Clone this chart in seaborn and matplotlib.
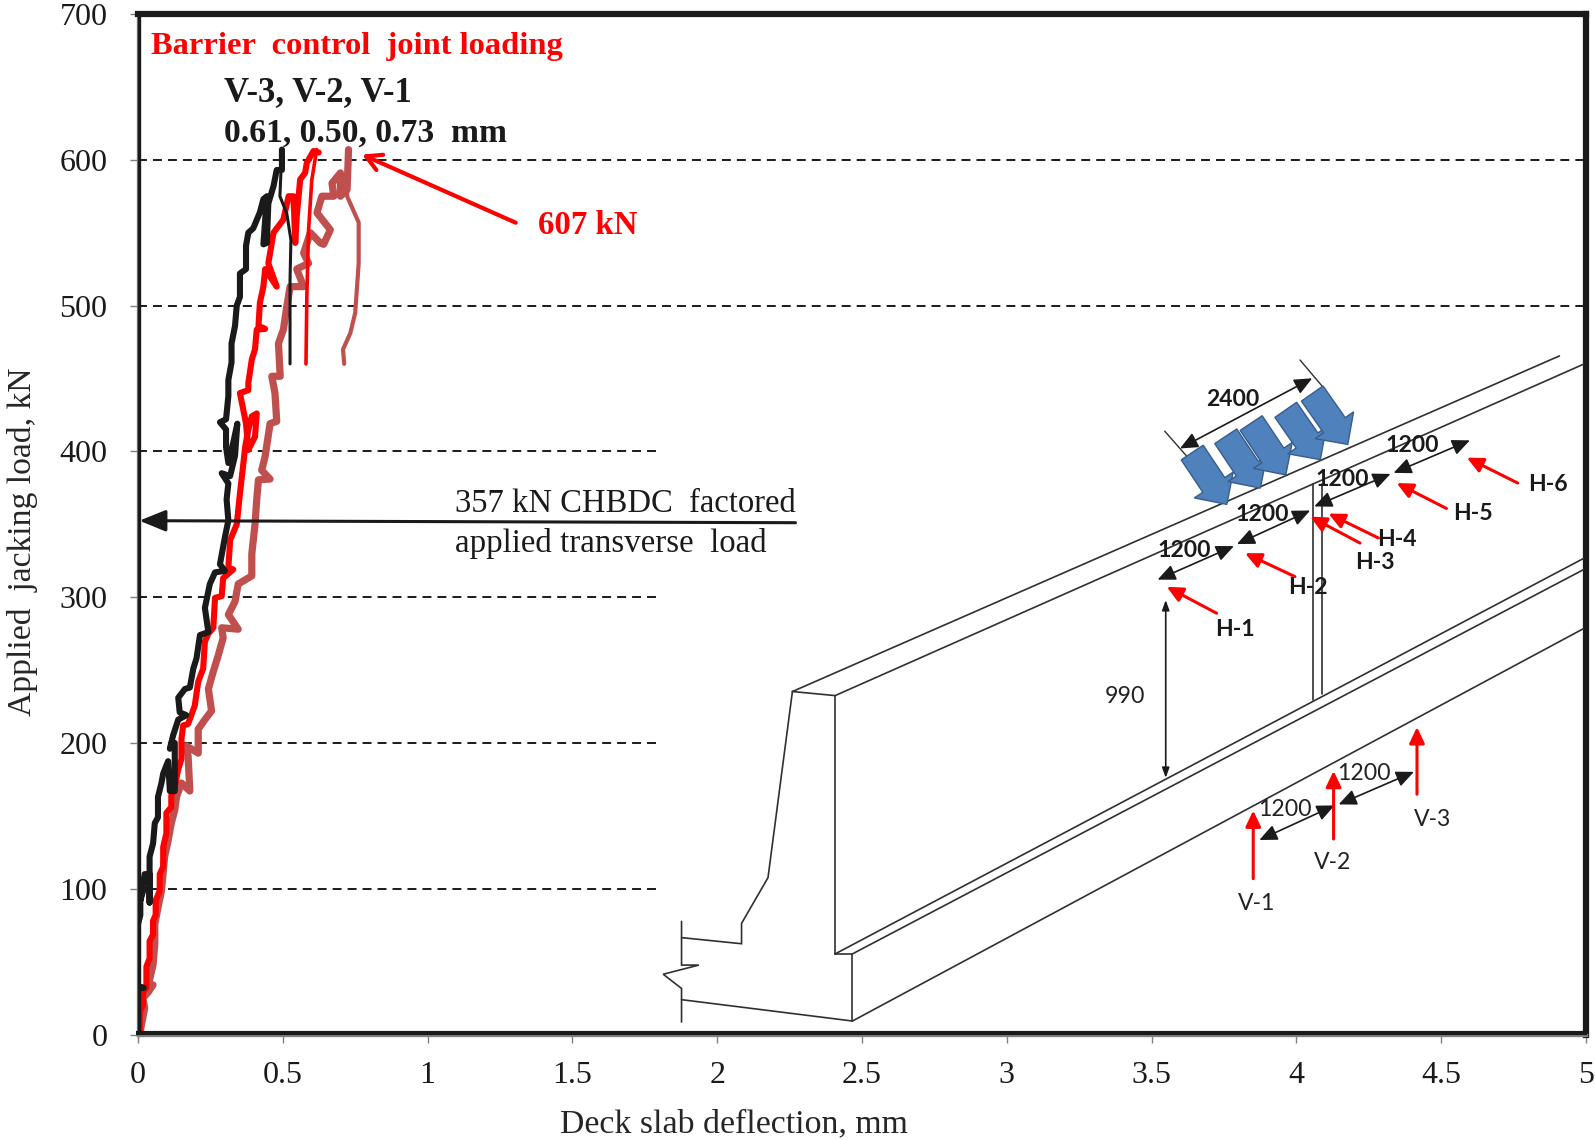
import matplotlib
matplotlib.use("Agg")
import matplotlib.pyplot as plt
import matplotlib.patches as mp
import pandas as pd
import seaborn as sns

# ---- chart data (deflection mm, load kN) ----
v3_x = [0,0,0.02,0,0,0.008,0.008,0.02,0.008,0.023,0.04,0.04,0.04,0.052,0.058,0.069,0.069,0.081,0.087,0.104,0.11,0.127,0.127,0.11,0.121,0.139,0.167,0.144,0.139,0.162,0.179,0.191,0.202,0.214,0.243,0.231,0.248,0.266,0.3,0.283,0.3,0.312,
        0.306,0.306,0.312,0.289,0.318,0.335,0.343,0.329,0.312,0.304,0.304,0.283,0.304,0.312,0.312,0.323,0.323,0.335,0.341,0.352,0.352,0.373,0.373,0.381,0.398,0.421,0.433,0.445,0.433,0.445,0.45,0.468,0.479,0.497,0.497]
v3_y = [0,32,32,33,75.5,82,100,100,92,110,110,90.5,122,131,145,149,163,172.5,179,187.5,167,167,200,196,205,216,219,221,231,237,238,251,258,274,276,292.6,309,317,318,322.6,341,352.6,
        367,367,378,385,383,397,419,406,392,403,415,420,422,438,449,461,474,486,500,506,522,525,541,550,553,564,573,575,542,543,570,582,593,593,607]
v3_un_x = [0.497,0.49,0.514,0.528,0.525,0.525]
v3_un_y = [607,575,563,545,518,460]

v2_x = [0.006,0.006,0.017,0.017,0.029,0.029,0.04,0.04,0.052,0.052,0.061,0.061,0.075,0.075,0.087,0.087,0.098,0.098,0.115,0.115,0.127,0.139,0.15,0.15,0.156,0.173,0.196,0.208,0.225,0.231,0.243,0.26,0.266,0.289,0.294,0.329,0.312,0.318,0.341,
        0.352,0.364,0.37,0.381,0.393,0.41,0.404,0.381,0.373,0.352,0.381,0.381,0.393,0.404,0.41,0.439,0.416,0.421,0.433,0.439,0.479,0.45,0.468,0.485,0.502,0.52,0.537,0.543,0.548,0.56,0.577,0.583,0.606,0.624]
v2_y = [1.6,15.5,20,29,32,46.6,52,64,68.6,78,82,92,98.6,110,115,128.6,138,152,156,164,170,182,189,202.5,212,213,225.6,242,251,269.5,275,279,299.5,300.7,313,319,320,339,350,
        371,392,403,415,424,426,410,401,419,440,442,447,463,470,483.5,484,486,502,513,525,513,529,550,554.5,559,575,575,543,561,586.5,591,598,606,605]
v2_un_x = [0.617,0.60,0.589,0.583,0.58]
v2_un_y = [607,586,552,506,460]

v1_x = [0.006,0.023,0.017,0.035,0.052,0.035,0.052,0.058,0.058,0.069,0.081,0.092,0.104,0.115,0.127,0.133,0.15,0.179,0.173,0.167,0.208,0.208,0.231,0.254,0.243,0.26,0.277,0.294,0.289,0.346,0.312,0.335,0.346,0.393,0.393,0.404,
        0.41,0.416,0.456,0.427,0.439,0.456,0.479,0.473,0.462,0.491,0.485,0.502,0.514,0.525,0.572,0.548,0.589,0.572,0.595,0.629,0.641,0.664,0.618,0.635,0.676,0.67,0.699,0.699,0.722,0.727]
v1_y = [0.5,18,25,29,34,33,48,62,75.5,87,98.6,122,133,145,154,163,172.5,167,191,198,193,209.5,216,222,237,249,260,272,279,278,288,297,309,314.6,329.6,350,
        367,380.5,381,387,396.6,419,420.6,440,451.5,451.5,474,483.5,499.5,513,513,525,529,536,550,543,542,552,563.6,575,575,584,591,575,579.6,607]
v1_un_x = [0.727,0.722,0.762,0.762,0.75,0.733,0.708,0.712]
v1_un_y = [607,575,557,529,495,481,470,460]

x_ticks = [0,0.5,1,1.5,2,2.5,3,3.5,4,4.5,5]
x_tick_labels = ["0","0.5","1","1.5","2","2.5","3","3.5","4","4.5","5"]
y_ticks = [0,100,200,300,400,500,600,700]
short_grid = [100,200,300,400]
long_grid = [500,600]
short_grid_end = 1.8
x_label = "Deck slab deflection, mm"
y_label = "Applied  jacking load, kN"

BROWN = "#c0504d"
SERIF = "Liberation Serif"
SANS = "Lato"

sns.set_theme(style="white")
plt.rcParams["font.family"] = [SERIF, "DejaVu Sans"]

fig = plt.figure(figsize=(15.95, 11.4), dpi=100)
L, R, B, T = 138/1595, 1586/1595, 1-1034.5/1140, 1-14/1140
ax = fig.add_axes([L, B, R-L, T-B])
ax.set_xlim(0, 5)
ax.set_ylim(0, 700)

DASH = (4.6, 3.1)
for y in short_grid:
    ax.plot([0, short_grid_end], [y, y], color="k", lw=1.4, dashes=DASH, zorder=1)
for y in long_grid:
    ax.plot([0, 5], [y, y], color="k", lw=1.4, dashes=DASH, zorder=1)

def curve(xs, ys, color, lw):
    df = pd.DataFrame({"x": xs, "y": ys})
    sns.lineplot(data=df, x="x", y="y", sort=False, estimator=None, color=color,
                 lw=lw, ax=ax, zorder=3, solid_joinstyle="round", solid_capstyle="round")

curve(v1_x, v1_y, BROWN, 5.2)
curve(v1_un_x, v1_un_y, BROWN, 3.0)
curve(v2_x, v2_y, "#ff0000", 4.4)
curve(v2_un_x, v2_un_y, "#ff0000", 2.6)
curve(v3_x, v3_y, "k", 4.4)
curve(v3_un_x, v3_un_y, "k", 2.2)

ax.set_xticks(x_ticks, x_tick_labels)
ax.set_yticks(y_ticks)
ax.tick_params(axis="x", length=6, width=1.0, color="#808080", labelsize=23,
               labelcolor="k", direction="out", bottom=True, pad=13)
ax.tick_params(axis="y", length=6, width=1.0, color="#808080", labelsize=23,
               labelcolor="k", direction="out", left=True, pad=16)
ax.set_xlabel(x_label, fontsize=24.4, va="center")
ax.set_ylabel(y_label, fontsize=24.2, va="center")
ax.xaxis.set_label_coords(0.4115, -0.0877)
ax.yaxis.set_label_coords(-0.0800, 0.4825)
for s in ["left", "bottom"]:
    ax.spines[s].set_color("#808080")
    ax.spines[s].set_linewidth(2.4)
for s in ["top", "right"]:
    ax.spines[s].set_color("k")
    ax.spines[s].set_linewidth(4.5)

# overlay in reference-image units for annotations and the barrier sketch
ov = fig.add_axes([0, 0, 1, 1], facecolor="none")
ov.set_xlim(0, 1568)
ov.set_ylim(1121, 0)
ov.axis("off")

ov.plot([137, 137], [14, 1017], color="k", lw=2.4, solid_capstyle="butt")
ov.plot([134, 1560], [1015.5, 1015.5], color="k", lw=3.0, solid_capstyle="butt")

def t(x, y, s, size, color="k", weight="normal", family=SERIF, ha="left", **kw):
    ov.text(x, y, s, fontsize=size, color=color, fontweight=weight,
            family=[family, "DejaVu Sans"], ha=ha, va="center", **kw)

t(148, 46, "Barrier  control  joint loading", 23.4, "#ff0000", "bold")
t(220, 91, "V-3, V-2, V-1", 25, "k", "bold")
t(220, 131, "0.61, 0.50, 0.73  mm", 24.2, "k", "bold")
t(529, 222, "607 kN", 23.7, "#ff0000", "bold")
t(447, 495, "357 kN CHBDC  factored", 23.5)
t(447, 534, "applied transverse  load", 23.7)

ov.annotate("", xy=(356, 152), xytext=(507, 219),
            arrowprops=dict(arrowstyle="->,head_length=0.9,head_width=0.5", color="#ff0000", lw=3,
                            shrinkA=0, shrinkB=0))
ov.annotate("", xy=(137, 512), xytext=(782, 514),
            arrowprops=dict(arrowstyle="-|>,head_length=1.35,head_width=0.55", color="k", lw=2.2,
                            fc="k", shrinkA=0, shrinkB=0))

# barrier sketch
LINE = "#303030"
segs = [
    [(779,680),(1533,350)], [(821,684),(1557,358)], [(779,680),(821,684)],
    [(821,684),(821,938)], [(779,680),(755,863),(729,908),(729,928),(670,922)],
    [(670,906),(670,949),(687,949),(652,958),(670,972),(670,1005)],
    [(670,983),(838,1004)], [(821,938),(838,938),(838,1004)],
    [(821,938),(1557,549)], [(838,938),(1557,560)], [(838,1004),(1557,618)],
    [(1291,476),(1291,688)], [(1300,476),(1300,682)],
]
for seg in segs:
    ov.plot([p[0] for p in seg], [p[1] for p in seg], color=LINE, lw=1.2, solid_joinstyle="miter")

def dim(a, b, hl=0.9, hw=0.4, lw=1.2):
    ov.annotate("", xy=b, xytext=a,
                arrowprops=dict(arrowstyle=f"<|-|>,head_length={hl},head_width={hw}", color="k",
                                fc="k", lw=lw, shrinkA=0, shrinkB=0))

dim((1146,590),(1146,765), 0.5, 0.18)
for a, b in [((1138,570),(1213,537)), ((1216,535),(1288,502)),
             ((1292,498),(1367,466)), ((1370,465),(1445,433)),
             ((1238,826),(1312,792)), ((1316,791),(1390,759)),
             ((1160,441),(1290,372))]:
    dim(a, b)
ov.plot([1145,1167],[424,449], color=LINE, lw=1)
ov.plot([1278,1300],[354,380], color=LINE, lw=1)

for tail, tip in [((1172,445),(1206,496)), ((1205,429),(1239,480)), ((1230,416),(1264,467)),
                  ((1264,403),(1298,452)), ((1290,387),(1325,437))]:
    ov.add_patch(mp.FancyArrow(tail[0], tail[1], tip[0]-tail[0], tip[1]-tail[1], width=26,
                               head_width=46, head_length=23, length_includes_head=True,
                               fc="#4f81bd", ec="#385d8a", lw=1.0, zorder=4))

for a, b in [((1196,603),(1147,577)), ((1273,567),(1224,544)), ((1337,534),(1288,508)),
             ((1355,529),(1306,505)), ((1422,500),(1373,475)), ((1492,475),(1442,450)),
             ((1232,864),(1232,797)), ((1311,825),(1311,758)), ((1393,781),(1393,715))]:
    ov.annotate("", xy=b, xytext=a,
                arrowprops=dict(arrowstyle="-|>,head_length=0.8,head_width=0.38", color="#ff0000",
                                fc="#ff0000", lw=2.2, shrinkA=0, shrinkB=0), zorder=5)

for x, y, s in [(1164,541,"1200"),(1241,506,"1200"),(1319,472,"1200"),(1388,438,"1200"),(1212,393,"2400"),
                (1214,619,"H-1"),(1286,578,"H-2"),(1352,553,"H-3"),(1373,531,"H-4"),(1448,505,"H-5"),(1522,476,"H-6")]:
    t(x, y, s, 16.6, "k", "bold", SANS, ha="center", zorder=6)
for x, y, s in [(1263,796,"1200"),(1341,761,"1200"),(1106,685,"990"),
                (1235,888,"V-1"),(1310,848,"V-2"),(1408,806,"V-3")]:
    t(x, y, s, 16.6, "#222222", "normal", SANS, ha="center", zorder=6)

fig.savefig("out.png", dpi=100)
